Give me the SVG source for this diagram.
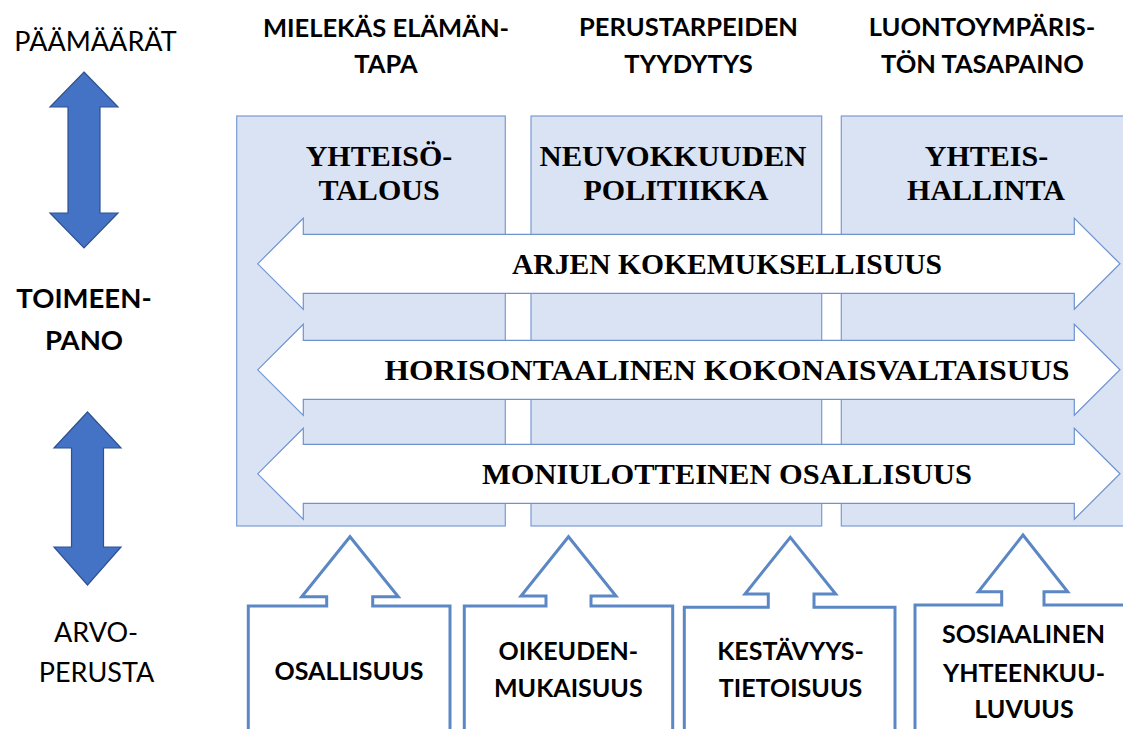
<svg xmlns="http://www.w3.org/2000/svg" xmlns:xlink="http://www.w3.org/1999/xlink" width="1123" height="729" viewBox="0 0 1123 729">
<style>
.bg{fill:#ffffff}
.panel{fill:#DAE3F3;stroke:#7A9CD3;stroke-width:1.2}
.harrow{fill:#ffffff;stroke:#6E93D0;stroke-width:1.2}
.varrow{fill:#4472C4;stroke:#2F528F;stroke-width:1.2}
.base{fill:#ffffff;stroke:#5B87C5;stroke-width:3}
.hdr{font-family:Lato,"Liberation Sans",sans-serif;font-weight:bold;font-size:25.5px;fill:#000;text-anchor:middle}
.lbl{font-family:Lato,"Liberation Sans",sans-serif;font-size:27px;fill:#000;text-anchor:middle}
.lblb{font-family:Lato,"Liberation Sans",sans-serif;font-weight:bold;font-size:27.5px;fill:#000;text-anchor:middle}
.ser{font-family:"Liberation Serif",serif;font-weight:bold;font-size:30px;fill:#000;text-anchor:middle}
.bot{font-family:Lato,"Liberation Sans",sans-serif;font-weight:bold;font-size:25px;fill:#000;text-anchor:middle}
</style>
<defs>
<path id="harr" d="M257.7,263.8 L303.3,218.3 L303.3,234.3 L1074.3,234.3 L1074.3,218.3 L1120,263.8 L1074.3,309.3 L1074.3,293.3 L303.3,293.3 L303.3,309.3 Z"/>
</defs>
<rect class="bg" x="0" y="0" width="1123" height="729"/>

<g id="labels-left">
<text class="lbl" x="95.5" y="50.7">PÄÄMÄÄRÄT</text>
<text class="lblb" x="84" y="308.3">TOIMEEN-</text>
<text class="lblb" x="84" y="350">PANO</text>
<text class="lbl" x="96" y="641.7">ARVO-</text>
<text class="lbl" x="96.5" y="681.7">PERUSTA</text>
</g>

<g id="goals">
<text class="hdr" x="386" y="36.7">MIELEKÄS ELÄMÄN-</text>
<text class="hdr" x="386" y="73.3">TAPA</text>
<text class="hdr" x="688.5" y="35.7">PERUSTARPEIDEN</text>
<text class="hdr" x="688.5" y="73">TYYDYTYS</text>
<text class="hdr" x="982" y="35.7">LUONTOYMPÄRIS-</text>
<text class="hdr" x="982.5" y="73">TÖN TASAPAINO</text>
</g>

<g id="vertical-arrows">
<path class="varrow" d="M84,72 L118,107 L100,107 L100,213 L118,213 L84,248 L50,213 L68,213 L68,107 L50,107 Z"/>
<path class="varrow" d="M87.5,412 L121,448 L103.5,448 L103.5,547 L121,547 L87.5,585 L54,547 L71.5,547 L71.5,448 L54,448 Z"/>
</g>

<g id="panel-yhteisotalous">
<rect class="panel" x="236.7" y="116" width="268.6" height="410"/>
<text class="ser" x="379" y="165.7">YHTEISÖ-</text>
<text class="ser" x="379" y="200">TALOUS</text>
</g>
<g id="panel-neuvokkuuden">
<rect class="panel" x="531" y="116" width="290.7" height="410"/>
<text class="ser" x="673" y="165.7" textLength="267" lengthAdjust="spacingAndGlyphs">NEUVOKKUUDEN</text>
<text class="ser" x="676" y="200">POLITIIKKA</text>
</g>
<g id="panel-yhteishallinta">
<rect class="panel" x="841.3" y="116" width="300" height="410"/>
<text class="ser" x="986.5" y="165.7">YHTEIS-</text>
<text class="ser" x="986" y="200">HALLINTA</text>
</g>

<g id="arrow-arjen">
<use xlink:href="#harr" class="harrow"/>
<text class="ser" x="727" y="274" textLength="430" lengthAdjust="spacingAndGlyphs">ARJEN KOKEMUKSELLISUUS</text>
</g>
<g id="arrow-horisontaalinen">
<use xlink:href="#harr" class="harrow" transform="translate(0,106)"/>
<text class="ser" x="727" y="380" textLength="685" lengthAdjust="spacingAndGlyphs">HORISONTAALINEN KOKONAISVALTAISUUS</text>
</g>
<g id="arrow-moniulotteinen">
<use xlink:href="#harr" class="harrow" transform="translate(0,210)"/>
<text class="ser" x="727" y="484" textLength="490" lengthAdjust="spacingAndGlyphs">MONIULOTTEINEN OSALLISUUS</text>
</g>

<g id="connectors">
<path class="base" d="M248.3,740 V606 H326.7 V596.7 H301.7 L350,536.7 L398.3,596.7 H372.7 V606 H450 V740"/>
<path class="base" d="M464.3,740 V606 H546 V596 H521 L568.5,536.7 L616,596 H591 V606 H672.7 V740"/>
<path class="base" d="M684.3,740 V607.3 H768.3 V594 H745 L790.3,537.3 L835.7,594 H814 V607.3 H895 V740"/>
<path class="base" d="M915,740 V605 H1001.7 V591.7 H978.3 L1023,535 L1067.7,591.7 H1044 V605 H1135"/>
</g>

<g id="value-osallisuus">
<text class="bot" x="349" y="680">OSALLISUUS</text>
</g>
<g id="value-oikeudenmukaisuus">
<text class="bot" x="568.3" y="660">OIKEUDEN-</text>
<text class="bot" x="568.3" y="696.7">MUKAISUUS</text>
</g>
<g id="value-kestavyystietoisuus">
<text class="bot" x="790.5" y="660">KESTÄVYYS-</text>
<text class="bot" x="790.5" y="696.7">TIETOISUUS</text>
</g>
<g id="value-sosiaalinen">
<text class="bot" x="1023.5" y="643.3">SOSIAALINEN</text>
<text class="bot" x="1024" y="681.7">YHTEENKUU-</text>
<text class="bot" x="1024" y="718.3">LUVUUS</text>
</g>
</svg>
